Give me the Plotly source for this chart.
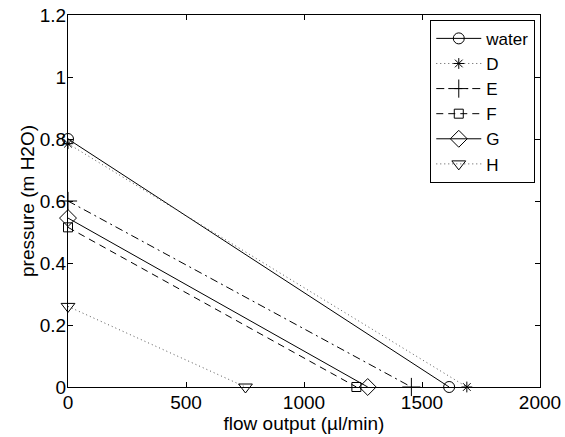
import plotly.graph_objects as go

names = ["water", "D", "E", "F", "G", "H"]
flow_start = [0, 0, 0, 0, 0, 0]
flow_end = [1615, 1690, 1455, 1222, 1270, 752]
pressure_start = [0.80, 0.785, 0.60, 0.515, 0.545, 0.26]
pressure_end = [0, 0, 0, 0, 0, 0]

symbols = ["circle-open", "asterisk-open", "cross-thin-open", "square-open", "diamond-open", "triangle-down-open"]
dashes = ["solid", "1px,3px", "8px,4px,2px,4px", "7px,5px", "solid", "1px,3px"]
line_colors = ["black", "#555555", "black", "black", "black", "#555555"]
msizes = [11, 9, 13, 9, 13, 12]

x_ticks = [0, 500, 1000, 1500, 2000]
y_ticks = [0, 0.2, 0.4, 0.6, 0.8, 1, 1.2]
y_ticklabels = ["0", "0.2", "0.4", "0.6", "0.8", "1", "1.2"]

fig = go.Figure()
for i, n in enumerate(names):
    fig.add_trace(go.Scatter(
        x=[flow_start[i], flow_end[i]],
        y=[pressure_start[i], pressure_end[i]],
        mode="lines+markers",
        name=n,
        legendgroup=n,
        line=dict(color=line_colors[i], width=1, dash=dashes[i]),
        marker=dict(symbol=symbols[i], size=msizes[i], color="black",
                    line=dict(color="black", width=1)),
        cliponaxis=False,
    ))

font = dict(family="Liberation Sans, Arial, sans-serif", size=19, color="black")
axis_common = dict(
    showline=True, linecolor="black", linewidth=1, mirror="allticks",
    ticks="inside", ticklen=5, tickcolor="black", showgrid=False, zeroline=False,
    tickfont=font, automargin=False, ticklabeloverflow="allow",
)
fig.update_layout(
    width=565, height=437,
    margin=dict(l=68, r=25, t=15, b=50),
    paper_bgcolor="white", plot_bgcolor="white",
    font=font,
    xaxis=dict(range=[0, 2000], tickvals=x_ticks, ticktext=[str(v) for v in x_ticks],
               ticklabelstandoff=-2,
               title=dict(text="flow output (µl/min)", font=font, standoff=0), **axis_common),
    yaxis=dict(range=[0, 1.2], tickvals=y_ticks, ticktext=y_ticklabels,
               ticklabelstandoff=-3,
               title=dict(text="pressure (m H2O)", font=font, standoff=0), **axis_common),
    legend=dict(x=0.99, y=0.987, xanchor="right", yanchor="top",
                bgcolor="white", bordercolor="black", borderwidth=1,
                font=dict(family="Liberation Sans, Arial, sans-serif", size=17, color="black"),
                tracegroupgap=0, itemwidth=45),
    showlegend=True,
)
fig.write_html("out.html", config={"displayModeBar": False},
               post_script="document.body.style.margin='0';document.body.style.overflow='hidden';")
